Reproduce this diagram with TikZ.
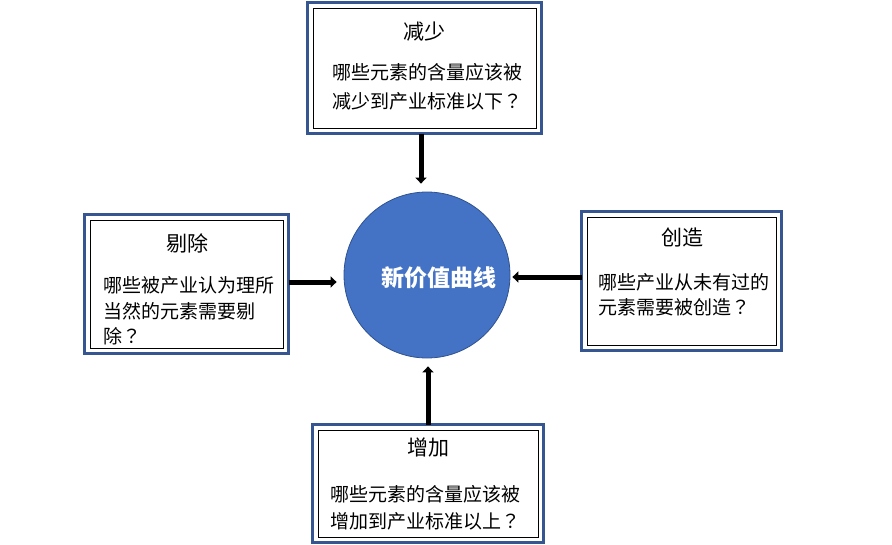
\documentclass[tikz,border=0pt]{standalone}
\usepackage{fontspec}
\setmainfont{Noto Sans CJK SC}
\newfontfamily\tcfont{Noto Sans CJK TC}
\newcommand{\qmark}{{\tcfont ？}}
\usetikzlibrary{arrows.meta}
\definecolor{frameblue}{RGB}{54,86,146}
\definecolor{circblue}{RGB}{68,114,196}
\definecolor{circedge}{RGB}{47,82,143}
\tikzstyle{qbox}=[draw=black,line width=1pt,inner sep=0pt,fill=white]
\tikzstyle{qtitle}=[inner sep=0pt,font=\fontsize{21}{25}\selectfont]
\tikzstyle{qtext}=[inner sep=0pt,anchor=north west,align=left]
\tikzstyle{bluerim}=[draw=frameblue,line width=3pt]
\tikzstyle{push}=[-{Triangle[length=6pt,width=11pt]},line width=5pt,shorten <=5pt]

\begin{document}
\begin{tikzpicture}[x=1pt,y=-1pt]
	\useasboundingbox (0,0) rectangle (892,544);
	% four question boxes
	\node[qbox,minimum width=223pt,minimum height=120pt] (reduce) at (424.5,68)  {};
	\node[qbox,minimum width=193pt,minimum height=128pt] (cut)    at (186.5,284) {};
	\node[qbox,minimum width=189pt,minimum height=128pt] (create) at (681.5,281) {};
	\node[qbox,minimum width=220pt,minimum height=107pt] (raise)  at (428,483.5) {};
	\foreach \b in {reduce,cut,create,raise}
		\draw[bluerim] ([shift={(-5pt,5pt)}]\b.north west) rectangle ([shift={(5pt,-5pt)}]\b.south east);
	
	% centre circle
	\node[circle,fill=circblue,draw=circedge,line width=0.8pt,minimum size=166pt,inner sep=0pt] (value) at (427,275) {};
	\node[text=white,font=\fontsize{23}{27}\selectfont\bfseries] (valueT) at (439,278) {新价值曲线};
	
	\node[qtitle] (reduceT) at (424,32) {减少};
	\node[qtext,font=\fontsize{19}{29}\selectfont] (reduceQ) at (332,63.5) {哪些元素的含量应该被\\减少到产业标准以下\qmark};
	\node[qtitle] (cutT) at (187,243) {剔除};
	\node[qtext,font=\fontsize{19}{25.5}\selectfont] (cutQ) at (103,276.5) {哪些被产业认为理所\\当然的元素需要剔\\除\qmark};
	\node[qtitle] (createT) at (682,237) {创造};
	\node[qtext,font=\fontsize{19}{25}\selectfont] (createQ) at (598,273.5) {哪些产业从未有过的\\元素需要被创造\qmark};
	\node[qtitle] (raiseT) at (428,448) {增加};
	\node[qtext,font=\fontsize{19}{27}\selectfont] (raiseQ) at (330,485.5) {哪些元素的含量应该被\\增加到产业标准以上\qmark};
	
	% arrows into the circle
	\draw[push,shorten >=8pt] ([xshift=-3.5pt]reduce.south) -- ([xshift=-3.5pt]reduce.south |- value.north);
	\draw[push,shorten >=7pt] ([yshift=2pt]cut.east) -- ([yshift=2pt]cut.east -| value.west);
	\draw[push,shorten >=2pt] ([yshift=4pt]create.west) -- ([yshift=4pt]create.west -| value.east);
	\draw[push,shorten >=8pt] (raise.north) -- (raise.north |- value.south);
\end{tikzpicture}
\end{document}
